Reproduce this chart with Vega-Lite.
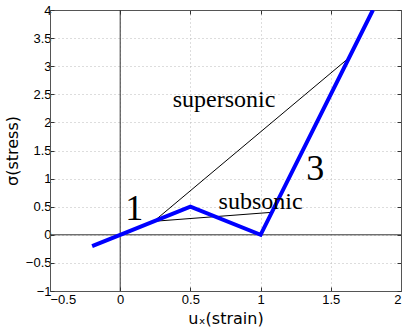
{
  "$schema": "https://vega.github.io/schema/vega-lite/v6.json",
  "autosize": "none",
  "width": 351,
  "height": 281,
  "padding": {"left": 50, "top": 10, "right": 8, "bottom": 37},
  "background": "white",
  "config": {
    "view": {"stroke": "#555", "strokeWidth": 1},
    "axis": {
      "grid": true,
      "gridColor": "#bbb",
      "gridDash": [1, 3],
      "gridWidth": 1,
      "domainColor": "#555",
      "tickColor": "#333",
      "tickSize": -4,
      "labelFont": "Liberation Sans",
      "labelFontSize": 13,
      "labelColor": "black",
      "titleFont": "DejaVu Sans",
      "titleFontSize": 16,
      "titleFontWeight": "normal",
      "titleColor": "black",
      "format": "~f"
    }
  },
  "datasets": {
    "curve": [
      {"x": -0.2, "y": -0.2},
      {"x": 0, "y": 0},
      {"x": 0.5, "y": 0.5},
      {"x": 1, "y": 0},
      {"x": 1.8, "y": 4}
    ],
    "chords": [
      {"x": 0.24, "y": 0.24, "c": "super", "o": 1},
      {"x": 1.63, "y": 3.15, "c": "super", "o": 2},
      {"x": 0.24, "y": 0.24, "c": "sub", "o": 1},
      {"x": 1.08, "y": 0.4, "c": "sub", "o": 2}
    ],
    "labels": [
      {"x": 0.74, "y": 2.27, "t": "supersonic", "s": 24},
      {"x": 1.0, "y": 0.46, "t": "subsonic", "s": 24},
      {"x": 0.1, "y": 0.26, "t": "1", "s": 36},
      {"x": 1.39, "y": 0.97, "t": "3", "s": 36}
    ],
    "vz": [{"v": 0}]
  },
  "layer": [
    {
      "data": {"name": "vz"},
      "mark": {"type": "rule", "color": "#333", "strokeWidth": 1},
      "encoding": {
        "x": {"field": "v", "type": "quantitative", "scale": {"domain": [-0.5, 2], "nice": false, "zero": false},
              "axis": {"title": "uₓ(strain)", "values": [-0.5, 0, 0.5, 1, 1.5, 2], "labelPadding": 6, "titlePadding": 4}}
      }
    },
    {
      "data": {"name": "vz"},
      "mark": {"type": "rule", "color": "#333", "strokeWidth": 1},
      "encoding": {
        "y": {"field": "v", "type": "quantitative", "scale": {"domain": [-1, 4], "nice": false, "zero": false},
              "axis": {"title": "σ(stress)", "values": [-1, -0.5, 0, 0.5, 1, 1.5, 2, 2.5, 3, 3.5, 4], "labelPadding": 3, "titlePadding": 5}}
      }
    },
    {
      "data": {"name": "chords"},
      "mark": {"type": "line", "color": "black", "strokeWidth": 1},
      "encoding": {
        "x": {"field": "x", "type": "quantitative", "axis": null},
        "y": {"field": "y", "type": "quantitative", "axis": null},
        "detail": {"field": "c"},
        "order": {"field": "o"}
      }
    },
    {
      "data": {"name": "curve"},
      "mark": {"type": "line", "color": "#0000ff", "strokeWidth": 4, "clip": true},
      "encoding": {
        "x": {"field": "x", "type": "quantitative", "axis": null},
        "y": {"field": "y", "type": "quantitative", "axis": null}
      }
    },
    {
      "data": {"name": "labels"},
      "mark": {"type": "text", "font": "Liberation Serif", "baseline": "alphabetic", "align": "center", "color": "black"},
      "encoding": {
        "x": {"field": "x", "type": "quantitative", "axis": null},
        "y": {"field": "y", "type": "quantitative", "axis": null},
        "text": {"field": "t"},
        "size": {"field": "s", "type": "quantitative", "scale": null}
      }
    },
    {
      "data": {"name": "vz"},
      "mark": {"type": "point", "opacity": 0},
      "encoding": {
        "x": {"field": "v", "type": "quantitative", "axis": {"orient": "top", "labels": false, "title": null, "grid": false, "values": [-0.5, 0, 0.5, 1, 1.5, 2]}},
        "y": {"field": "v", "type": "quantitative", "axis": {"orient": "right", "labels": false, "title": null, "grid": false, "values": [-1, -0.5, 0, 0.5, 1, 1.5, 2, 2.5, 3, 3.5, 4]}}
      }
    }
  ],
  "resolve": {"axis": {"x": "independent", "y": "independent"}}
}
